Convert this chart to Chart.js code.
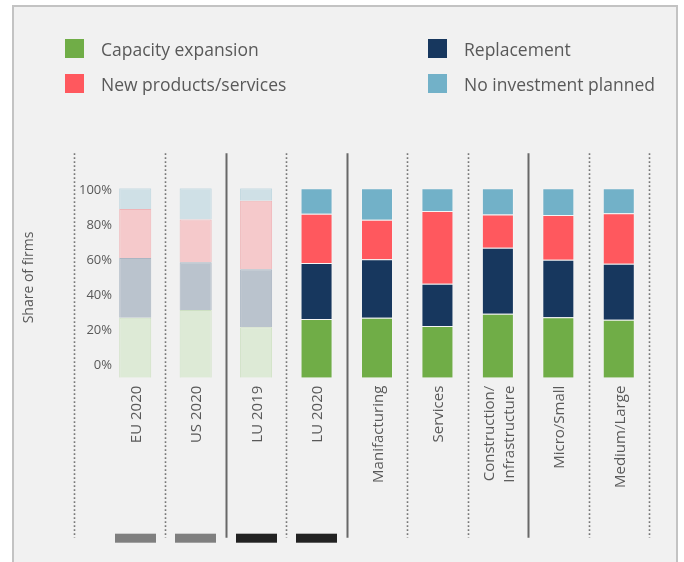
<!DOCTYPE html>
<html>
<head>
<meta charset="utf-8">
<script src="https://cdn.jsdelivr.net/npm/chart.js@4.4.1/dist/chart.umd.min.js"></script>
<style>
  html, body { margin: 0; padding: 0; background: #fff; overflow: hidden; }
  #wrap { position: relative; width: 684px; height: 562px; }
  #frame {
    position: absolute; left: 12px; top: 5px; width: 662px; height: 600px;
    background: #f1f1f1; border: 2px solid #c3c3c3; border-bottom: none;
  }
  #chartBox { position: absolute; left: 0; top: 0; width: 684px; height: 562px; }
  #legend {
    position: absolute; left: 65px; top: 39px;
    display: grid; grid-template-columns: 363px auto; grid-auto-rows: 35px;
    font-family: "Open Sans", sans-serif; font-size: 17.5px; color: #595959;
  }
  #legend .item { display: flex; align-items: center; height: 19px; }
  #legend .box { width: 19px; height: 19px; margin-right: 17px; flex: none; }
</style>
</head>
<body>
<div id="wrap">
  <div id="frame"></div>
  <div id="chartBox"><canvas id="barChart"></canvas></div>
  <div id="legend"></div>
</div>
<script>
// categories along the x axis
var categories = ['EU 2020', 'US 2020', 'LU 2019', 'LU 2020', 'Manifacturing', 'Services',
                  ['Construction/', 'Infrastructure'], 'Micro/Small', 'Medium/Large'];

// share of firms, % (stacked bottom to top)
var capacity     = [31.7, 35.7, 26.6, 31.0, 31.7, 27.3, 33.8, 31.9, 30.6];
var replacement  = [31.5, 25.3, 30.6, 29.6, 30.8, 22.3, 34.8, 30.4, 29.6];
var newProducts  = [25.9, 22.5, 36.2, 25.9, 20.9, 38.4, 17.6, 23.6, 26.6];
var noInvestment = [10.9, 16.5,  6.6, 13.5, 16.6, 12.0, 13.8, 14.1, 13.2];

var yTicks = [0, 20, 40, 60, 80, 100];
var yTitle = 'Share of firms';

// comparison bars (first three) are drawn washed out
var faded = [true, true, true, false, false, false, false, false, false];
// separator after each category: 'dot' or 'solid'
var separators = ['dot', 'solid', 'dot', 'solid', 'dot', 'dot', 'solid', 'dot', 'dot'];
// small keys under the first four bars
var keyColors = ['#7f7f7f', '#7f7f7f', '#222222', '#222222'];

var textColor = '#595959';

function series(label, values, full, light, lightBorder) {
    return {
        label: label,
        data: values,
        backgroundColor: faded.map(function (f) { return f ? light : full; }),
        borderColor: faded.map(function (f) { return f ? lightBorder : 'rgba(255,255,255,0.3)'; }),
        borderWidth: 1,
        legendColor: full,
        yAxisID: 'y'
    };
}

// separators, keys under the bars
var dividers = {
    id: 'dividers',
    afterDatasetsDraw: function (chart) {
        var ctx = chart.ctx, x = chart.scales.x, area = chart.chartArea;
        var half = (x.getPixelForValue(1) - x.getPixelForValue(0)) / 2;
        var top = area.top - 35, bottom = area.bottom + 160;
        function line(px, style) {
            ctx.save();
            ctx.beginPath();
            if (style === 'dot') {
                ctx.setLineDash([1.6, 2.4]);
                ctx.lineWidth = 1.6;
                ctx.strokeStyle = '#777';
            } else {
                ctx.lineWidth = 2;
                ctx.strokeStyle = '#686868';
            }
            ctx.moveTo(Math.round(px) + 0.5, top);
            ctx.lineTo(Math.round(px) + 0.5, bottom);
            ctx.stroke();
            ctx.restore();
        }
        line(area.left - 31, 'dot');
        separators.forEach(function (s, i) { line(x.getPixelForValue(i) + half, s); });

        keyColors.forEach(function (c, i) {
            var cx = x.getPixelForValue(i);
            ctx.fillStyle = c;
            ctx.fillRect(Math.round(cx - 20.5), area.bottom + 156, 41, 9);
        });
    }
};

// tick labels and axis title; y labels sit on their own slightly inset scale
var axisText = {
    id: 'axisText',
    afterDraw: function (chart) {
        var ctx = chart.ctx, x = chart.scales.x, yl = chart.scales.yLab, area = chart.chartArea;
        ctx.save();
        ctx.fillStyle = textColor;

        ctx.font = '13px "Open Sans"';
        ctx.textAlign = 'right';
        ctx.textBaseline = 'middle';
        yTicks.forEach(function (v) {
            ctx.fillText(v + '%', area.left + 7, yl.getPixelForValue(v));
        });

        ctx.save();
        ctx.font = '14px "Open Sans"';
        ctx.textAlign = 'center';
        ctx.translate(area.left - 76, yl.getPixelForValue(50));
        ctx.rotate(-Math.PI / 2);
        ctx.fillText(yTitle, 0, 0);
        ctx.restore();

        var lh = 20;
        ctx.font = '15px "Open Sans"';
        ctx.textAlign = 'right';
        x.getLabels().forEach(function (label, i) {
            var lines = [].concat(label);
            var cx = x.getPixelForValue(i) + 1.5;
            lines.forEach(function (t, j) {
                ctx.save();
                ctx.translate(cx + (j - (lines.length - 1) / 2) * lh, area.bottom + 8);
                ctx.rotate(-Math.PI / 2);
                ctx.fillText(t, 0, 0);
                ctx.restore();
            });
        });
        ctx.restore();
    }
};

var chart = new Chart(document.getElementById('barChart'), {
    type: 'bar',
    data: {
        labels: categories,
        datasets: [
            series('Capacity expansion', capacity, '#70ad47', '#ddead6', '#cde0c2'),
            series('Replacement', replacement, '#17375e', '#bac3cd', '#a9b5c2'),
            series('New products/services', newProducts, '#ff585e', '#f5c9cb', '#efb4b7'),
            series('No investment planned', noInvestment, '#72b1c8', '#cfe0e6', '#bcd5de')
        ]
    },
    options: {
        responsive: true,
        maintainAspectRatio: false,
        animation: false,
        layout: { padding: { left: 105, right: 35, top: 188.3, bottom: 0 } },
        datasets: { bar: { categoryPercentage: 1, barPercentage: 0.53 } },
        plugins: {
            legend: { display: false },
            tooltip: { enabled: false }
        },
        scales: {
            x: {
                stacked: true,
                grid: { display: false, drawTicks: false },
                border: { display: false },
                ticks: { display: false },
                afterFit: function (s) { s.height = 184.3; }
            },
            y: { stacked: true, min: 0, max: 100, display: false },
            yLab: { type: 'linear', min: -7.26, max: 100.97, display: false }
        }
    },
    plugins: [dividers, axisText]
});

// two-column legend
var legend = document.getElementById('legend');
chart.data.datasets.forEach(function (ds) {
    var item = document.createElement('div');
    item.className = 'item';
    var box = document.createElement('span');
    box.className = 'box';
    box.style.background = ds.legendColor;
    item.appendChild(box);
    item.appendChild(document.createTextNode(ds.label));
    legend.appendChild(item);
});
</script>
</body>
</html>
